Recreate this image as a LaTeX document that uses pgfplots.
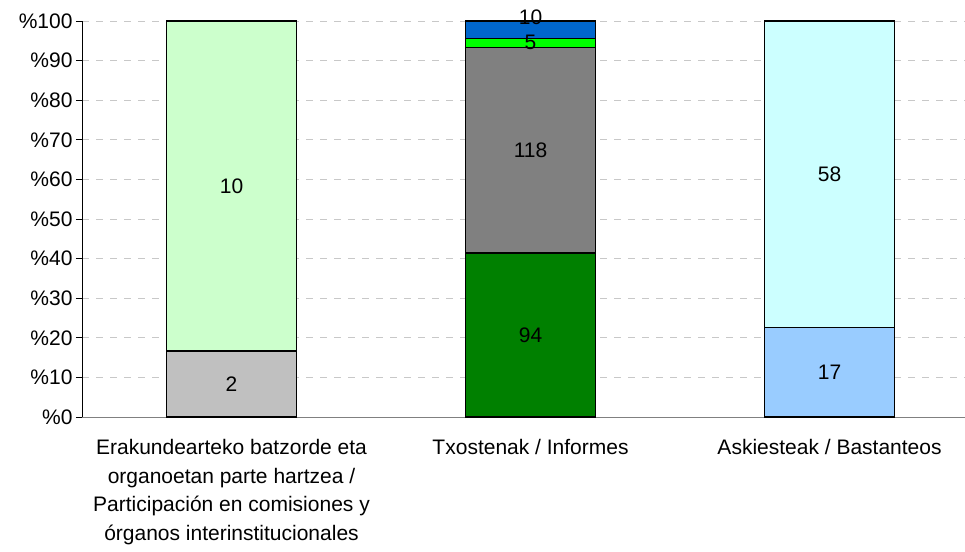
\documentclass[border=0pt]{standalone}
\usepackage{pgfplots}
\pgfplotsset{compat=1.18}
\usepackage{pgfplotstable}
\usepackage{fontspec}
\setmainfont{Liberation Sans}

\definecolor{cGrayL}{RGB}{192,192,192}
\definecolor{cGreenL}{RGB}{204,255,204}
\definecolor{cGreenD}{RGB}{0,128,0}
\definecolor{cGrayD}{RGB}{128,128,128}
\definecolor{cGreen}{RGB}{0,255,0}
\definecolor{cBlue}{RGB}{0,102,204}
\definecolor{cBlueL}{RGB}{153,204,255}
\definecolor{cCyanL}{RGB}{204,255,255}
\definecolor{gridgray}{RGB}{200,200,200}

% raw counts, one column per segment
\pgfplotstableread{
x total s1 s2 s3 s4 s5 s6 s7 s8
0 12  2 10 0  0   0 0  0  0
1 227 0 0  94 118 5 10 0  0
2 75  0 0  0  0   0 0  17 58
}\counts

\begin{document}
\begin{tikzpicture}
\useasboundingbox (-82pt,-134pt) rectangle (883pt,417pt);
\begin{axis}[
    scale only axis,
    width=883pt, height=396pt,
    ybar stacked,
    bar width=130pt,
    xmin=-0.5, xmax=2.453,
    ymin=0, ymax=100,
    axis x line*=bottom,
    axis y line*=left,
    x axis line style={-, draw=cGrayD, line width=0.8pt},
    y axis line style={-, draw=black, line width=0.8pt},
    xtick={0,1,2},
    xticklabels={
        {Erakundearteko batzorde eta\\organoetan parte hartzea /\\Participación en comisiones y\\órganos interinstitucionales},
        {Txostenak / Informes},
        {Askiesteak / Bastanteos}},
    xtick style={draw=none},
    xticklabel style={align=center, font=\fontsize{21}{28.5}\selectfont, yshift=-13pt},
    ytick={0,10,...,100},
    yticklabel={\%\pgfmathprintnumber[assume math mode=true]{\tick}},
    yticklabel style={font=\fontsize{21}{24}\selectfont},
    ytick style={draw=black, line width=0.8pt},
    tick align=outside,
    major tick length=6pt,
    ymajorgrids,
    major grid style={draw=gridgray, line width=0.8pt, dash pattern=on 7pt off 7pt},
    point meta=explicit symbolic,
    nodes near coords={\ifnum\pgfplotspointmeta>0 \pgfplotspointmeta\fi},
    every node near coord/.append style={anchor=center, black,
        font=\fontsize{21}{24}\selectfont},
    seg/.style={draw=black, line width=1.3pt},
]
\addplot[seg, fill=cGrayL]
    table[x=x, y expr=100*\thisrow{s1}/\thisrow{total}, meta=s1] \counts;
\addplot[seg, fill=cGreenL]
    table[x=x, y expr=100*\thisrow{s2}/\thisrow{total}, meta=s2] \counts;
\addplot[seg, fill=cGreenD]
    table[x=x, y expr=100*\thisrow{s3}/\thisrow{total}, meta=s3] \counts;
\addplot[seg, fill=cGrayD]
    table[x=x, y expr=100*\thisrow{s4}/\thisrow{total}, meta=s4] \counts;
\addplot[seg, fill=cGreen]
    table[x=x, y expr=100*\thisrow{s5}/\thisrow{total}, meta=s5] \counts;
\addplot[seg, fill=cBlue, every node near coord/.append style={yshift=12pt}]
    table[x=x, y expr=100*\thisrow{s6}/\thisrow{total}, meta=s6] \counts;
\addplot[seg, fill=cBlueL]
    table[x=x, y expr=100*\thisrow{s7}/\thisrow{total}, meta=s7] \counts;
\addplot[seg, fill=cCyanL]
    table[x=x, y expr=100*\thisrow{s8}/\thisrow{total}, meta=s8] \counts;
\end{axis}
\end{tikzpicture}
\end{document}
